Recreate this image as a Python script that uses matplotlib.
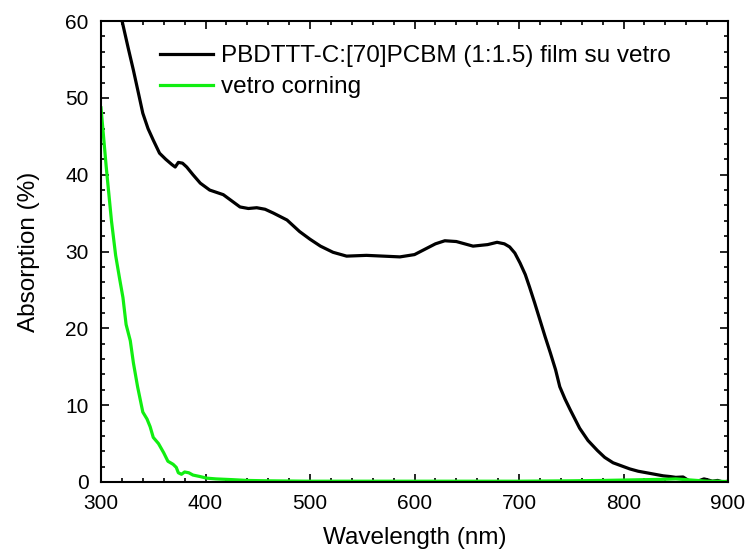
import matplotlib.pyplot as plt
from matplotlib.ticker import MultipleLocator

plt.rcParams['font.family'] = ['Liberation Sans', 'DejaVu Sans']

# PBDTTT-C:[70]PCBM (1:1.5) film su vetro
film_wl = [300, 310, 320, 326, 331, 336, 340, 345, 350, 356, 362, 368, 371, 374, 378,
           382, 388, 395, 404, 417, 425, 433, 441, 449, 457, 465, 478, 490, 500, 510,
           522, 535, 554, 570, 586, 600, 610, 620, 629, 640, 656, 670, 679, 686, 691,
           696, 701, 706, 710, 715, 720, 725, 730, 735, 739, 744, 749, 758, 766, 775,
           782, 790, 798, 806, 814, 822, 830, 838, 845, 850, 857, 861, 864, 868, 873,
           877, 880, 885, 890, 895, 900]
film_abs = [78, 68, 60.1, 56.5, 53.6, 50.5, 48.0, 46.0, 44.5, 42.8, 42.0, 41.3, 41.0, 41.6, 41.5,
            41.0, 40.0, 38.9, 38.0, 37.4, 36.6, 35.8, 35.6, 35.7, 35.5, 35.0, 34.1, 32.6, 31.6, 30.7,
            29.9, 29.4, 29.5, 29.4, 29.3, 29.6, 30.3, 31.0, 31.4, 31.3, 30.7, 30.9, 31.2, 31.0, 30.6,
            29.8, 28.5, 27.0, 25.4, 23.3, 21.1, 18.9, 16.8, 14.6, 12.4, 10.8, 9.4, 7.0, 5.4, 4.1,
            3.2, 2.5, 2.1, 1.7, 1.4, 1.2, 1.0, 0.8, 0.7, 0.6, 0.65, 0.3, 0.0, 0.1, 0.2,
            0.4, 0.3, 0.1, 0.2, 0.0, 0.1]

# vetro corning
glass_wl = [300, 305, 310, 314, 318, 321, 324, 328, 331, 335, 340, 344, 347, 350, 355,
            360, 364, 369, 372, 374, 377, 380, 384, 388, 395, 401, 410, 426, 440, 460,
            500, 550, 600, 650, 700, 750, 780, 800, 820, 840, 850, 860, 870, 880, 890, 900]
glass_abs = [48.7, 41, 34, 29.5, 26.3, 24.0, 20.5, 18.4, 15.5, 12.4, 9.1, 8.2, 7.2, 5.8, 5.0,
             3.8, 2.7, 2.3, 1.9, 1.2, 1.0, 1.3, 1.2, 0.9, 0.7, 0.5, 0.4, 0.3, 0.2, 0.15,
             0.1, 0.1, 0.1, 0.1, 0.1, 0.15, 0.2, 0.25, 0.3, 0.35, 0.4, 0.3, 0.2, 0.1, 0.1, 0.05]

fig = plt.figure(figsize=(7.46, 5.54), dpi=100)
ax = fig.add_axes([0.1354, 0.130, 0.8405, 0.832])

ax.plot(film_wl, film_abs, color='black', lw=2.3,
        label='PBDTTT-C:[70]PCBM (1:1.5) film su vetro')
ax.plot(glass_wl, glass_abs, color='#11ee11', lw=2.3, label='vetro corning')

ax.set_xlim(300, 900)
ax.set_ylim(0, 60)
ax.xaxis.set_major_locator(MultipleLocator(100))
ax.xaxis.set_minor_locator(MultipleLocator(20))
ax.yaxis.set_major_locator(MultipleLocator(10))
ax.yaxis.set_minor_locator(MultipleLocator(2))
ax.tick_params(which='both', direction='in', top=True, right=True, labelsize=15, width=1.2)
ax.tick_params(which='major', length=6)
ax.tick_params(which='minor', length=3)
ax.tick_params(axis='x', which='major', pad=9)
ax.tick_params(axis='y', which='major', pad=9)
for s in ax.spines.values():
    s.set_linewidth(1.5)

ax.set_xlabel('Wavelength (nm)', fontsize=17.5, labelpad=10)
ax.set_ylabel('Absorption (%)', fontsize=17.5, labelpad=18)

ax.legend(loc='upper left', bbox_to_anchor=(0.094, 0.948), frameon=False, fontsize=17.5,
          handlelength=2.2, handletextpad=0.3, borderpad=0, borderaxespad=0, labelspacing=0.38)

fig.savefig('out.png', dpi=100)
